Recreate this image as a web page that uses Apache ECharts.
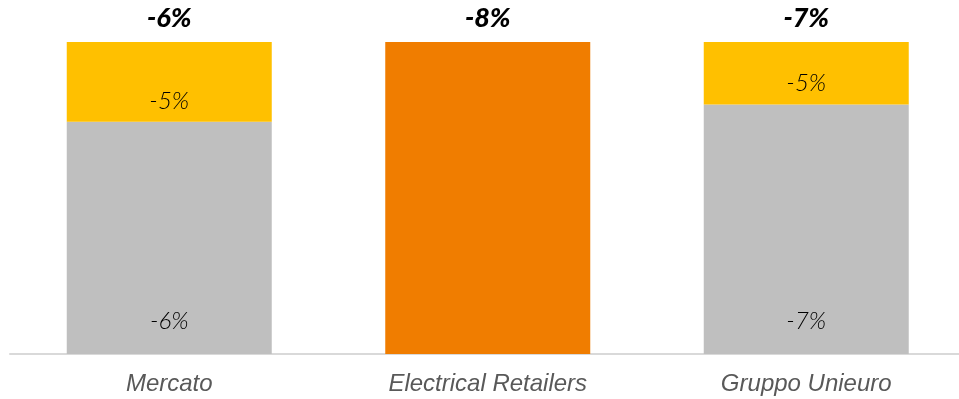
<!DOCTYPE html>
<html><head><meta charset="utf-8">
<script src="https://cdn.jsdelivr.net/npm/echarts@6/dist/echarts.min.js"></script>
<style>html,body{margin:0;padding:0;background:#fff;overflow:hidden}#c{width:966px;height:399px}</style>
</head><body><div id="c"></div>
<script>
const categories = ['Mercato', 'Electrical Retailers', 'Gruppo Unieuro'];
const totalLabels = ['-6%', '-8%', '-7%'];
// bar segment shares (height of each stack part, % of bar)
const grayShare = [74.4, null, 80];
const yellowShare = [25.6, null, 20];
const orangeShare = [null, 100, null];
// value labels shown inside segments
const grayLabels = ['-6%', '', '-7%'];
const yellowLabels = ['-5%', '', '-5%'];

const chart = echarts.init(document.getElementById('c'));
const innerLabel = (arr, dist) => ({
  show: true, position: 'insideBottom', distance: dist,
  formatter: p => arr[p.dataIndex],
  fontFamily: 'Lato', fontStyle: 'italic', fontWeight: 300, fontSize: 24, color: '#000'
});
chart.setOption({
  animation: false,
  grid: { left: 10, top: 42, bottom: 45, right: 0.5, containLabel: false },
  xAxis: [
    { type: 'category', data: categories, position: 'bottom',
      axisLine: { lineStyle: { color: '#d9d9d9', width: 2 } }, axisTick: { show: false },
      axisLabel: { margin: 18, fontSize: 24, fontStyle: 'italic', color: '#595959', fontFamily: 'Liberation Sans, Arial' } },
    { type: 'category', data: totalLabels, position: 'top',
      axisLine: { show: false }, axisTick: { show: false },
      axisLabel: { margin: 10, fontSize: 27, fontStyle: 'italic', fontWeight: 900, color: '#000', fontFamily: 'Lato' } }
  ],
  yAxis: { type: 'value', min: 0, max: 100, show: false, splitLine: { show: false } },
  series: [
    { type: 'bar', stack: 's', barWidth: 205, data: grayShare, itemStyle: { color: '#bfbfbf' }, label: innerLabel(grayLabels, 21) },
    { type: 'bar', stack: 's', barWidth: 205, data: yellowShare, itemStyle: { color: '#ffc000' }, label: innerLabel(yellowLabels, 9) },
    { type: 'bar', stack: 's', barWidth: 205, data: orangeShare, itemStyle: { color: '#f07d00' } }
  ]
});
</script></body></html>
